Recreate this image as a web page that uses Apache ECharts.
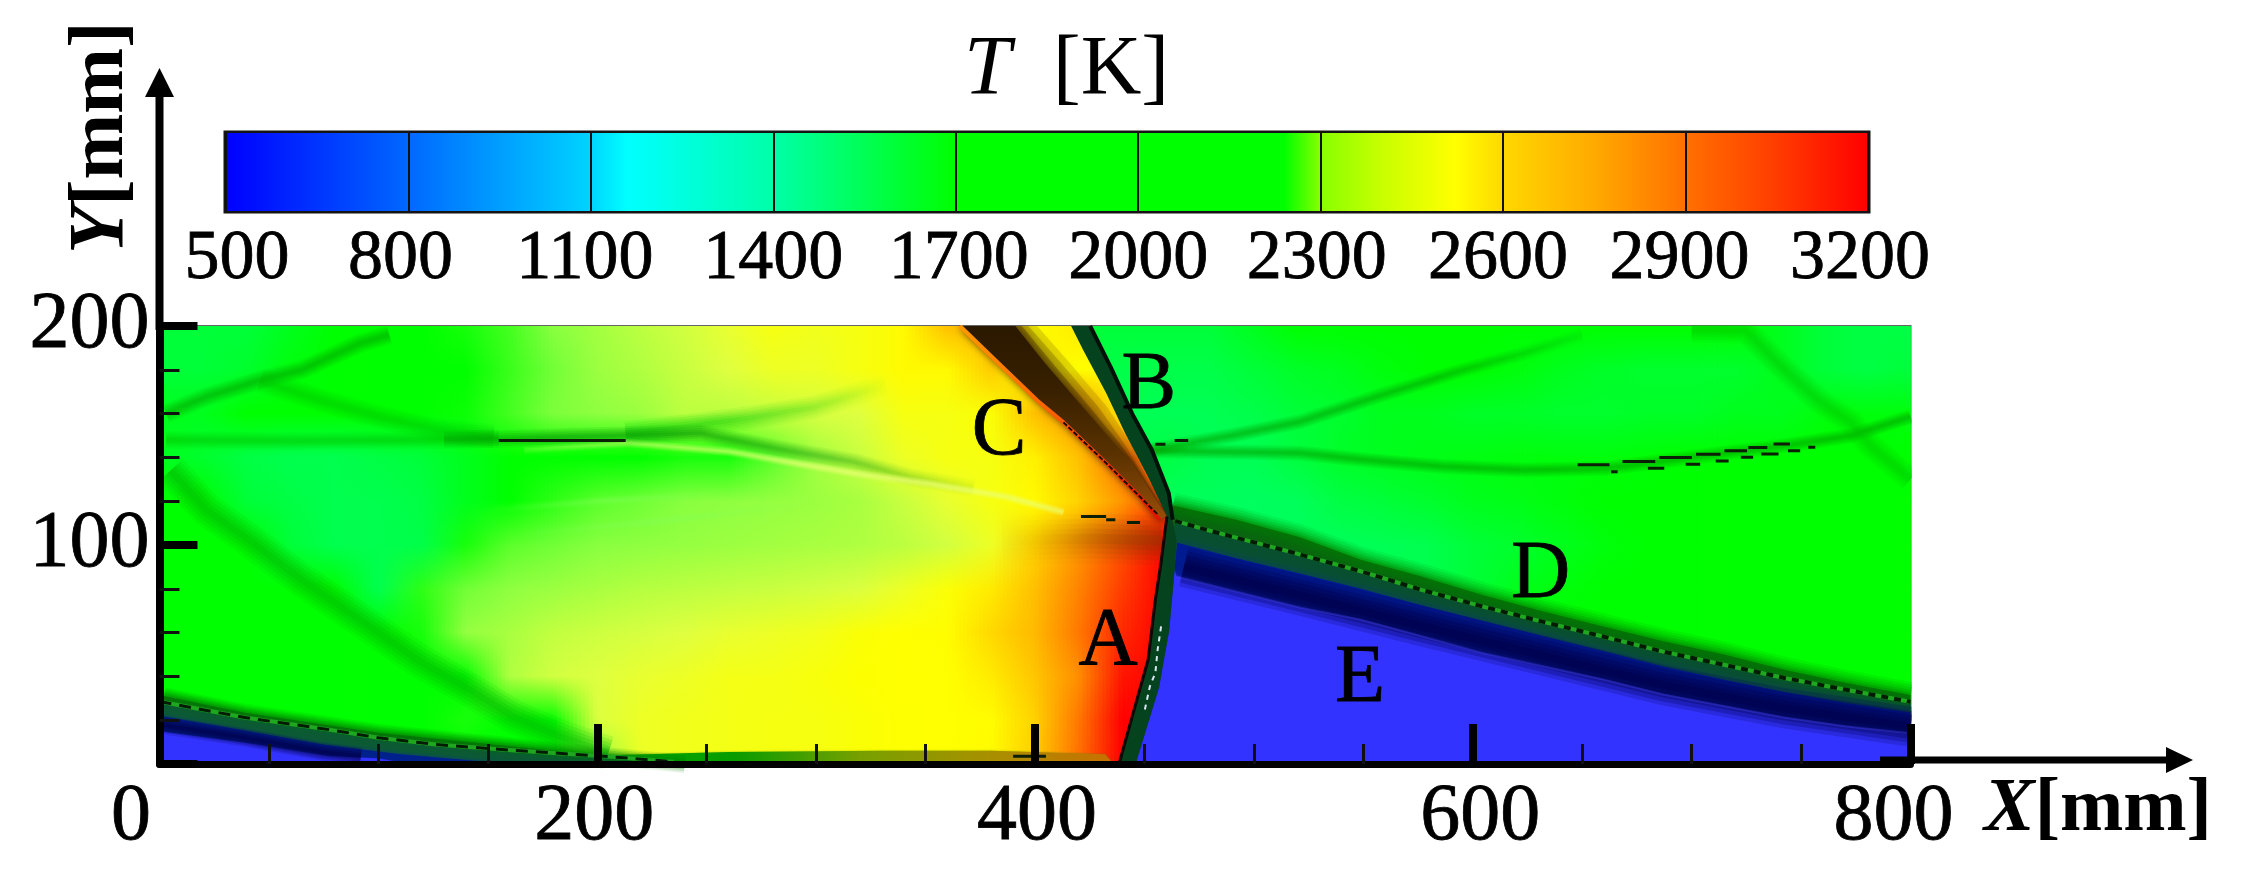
<!DOCTYPE html>
<html><head><meta charset="utf-8">
<style>html,body{margin:0;padding:0;background:#fff}#c{width:2249px;height:882px}</style>
<script src="https://cdn.jsdelivr.net/npm/echarts@6/dist/echarts.min.js"></script>
</head><body><div id="c"></div>
<script>
// ---------- colour scale ----------
const colorTicks = ['500','800','1100','1400','1700','2000','2300','2600','2900','3200'];
const scaleT   = [500,800,1100,1160,1400,1700,2240,2300,2400,2520,2600,2750,2900,3050,3200];
const scaleHex = ['#0000ff','#0068ff','#00d4ff','#00ffff','#00ffa8','#00ff00','#00ff00','#88ff00','#c8ff00','#ffff00','#ffd800','#ffaa00','#ff7000','#ff3c00','#ff0000'];

// ---------- temperature field, behind the wave (X = 0..480, Y = 200..0) ----------
const leftX = [0,20,40,60,80,100,120,140,160,180,200,220,240,260,280,300,320,340,360,380,400,420,440,460,480];
const rowY  = [200,180,160,140,120,100,80,60,40,20,0];
const leftT = [
[1600,1600,1600,1650,1700,1800,2100,2250,2270,2300,2340,2380,2420,2470,2500,2490,2500,2530,2680,2700,2520,2560,2560,2560,2560],
[1600,1600,1620,1680,1750,1800,2000,2240,2265,2290,2330,2360,2400,2450,2480,2480,2500,2530,2530,2640,2540,2520,2540,2540,2540],
[1650,1650,1700,1700,1700,1750,1900,2245,2270,2295,2310,2330,2380,2380,2400,2430,2450,2500,2500,2510,2680,2800,2560,2550,2550],
[1650,1620,1580,1560,1560,1580,1600,1650,1720,1850,2000,2150,2250,2250,2280,2340,2400,2480,2500,2500,2550,2680,2900,2900,2900],
[1800,1700,1600,1580,1560,1560,1580,1650,2000,2260,2280,2290,2300,2310,2320,2330,2350,2400,2470,2500,2530,2620,2800,3050,3050],
[1900,1900,1800,1600,1560,1560,1570,2250,2280,2290,2300,2310,2320,2330,2340,2350,2360,2380,2420,2480,2620,2800,3000,3200,3200],
[1800,1800,1800,1800,1750,1560,2260,2290,2310,2330,2350,2370,2380,2390,2400,2420,2440,2480,2510,2560,2680,2850,3050,3200,3200],
[1800,1800,1800,1800,1800,1750,2250,2320,2350,2390,2410,2430,2450,2470,2480,2490,2510,2520,2525,2600,2700,2880,3100,3200,3200],
[1800,1800,1800,1800,1800,1800,1800,2200,2360,2420,2450,2470,2480,2495,2495,2505,2515,2520,2520,2560,2660,2820,3150,3200,3200],
[1800,1800,1800,1800,1800,2100,2230,2250,1850,2100,2440,2480,2490,2495,2500,2500,2510,2518,2520,2525,2620,2880,3200,3200,3200],
[1800,1800,1800,1800,1800,1800,1800,1800,1800,1800,2300,2480,2490,2495,2500,2500,2510,2518,2520,2530,2640,2900,3200,3200,3200]
];
// ---------- temperature field, ahead of the wave (X = 420..800) ----------
const rightX = [420,440,460,480,500,520,540,560,580,600,620,640,660,680,700,720,740,760,780,800];
const rightT = [
[1600,1600,1600,1600,1650,1700,1700,1750,1750,1750,1750,1700,1700,1700,1700,1700,1650,1600,1580,1580],
[1570,1570,1570,1570,1600,1630,1650,1680,1700,1700,1680,1650,1630,1620,1620,1620,1650,1600,1580,1600],
[1550,1550,1550,1550,1570,1600,1620,1650,1650,1630,1630,1620,1620,1630,1630,1650,1650,1680,1680,1680],
[1550,1550,1580,1550,1550,1590,1630,1650,1660,1670,1680,1680,1680,1690,1700,1700,1700,1700,1750,1750],
[1540,1540,1540,1540,1530,1540,1580,1600,1620,1650,1660,1680,1700,1700,1720,1750,1760,1780,1800,1800],
[1530,1530,1530,1530,1530,1540,1540,1550,1560,1600,1620,1650,1680,1700,1750,1780,1800,1800,1800,1800],
[1530,1530,1530,1530,1530,1540,1540,1550,1560,1600,1650,1680,1700,1720,1760,1800,1800,1800,1800,1800],
[1600,1600,1600,1600,1600,1600,1600,1600,1600,1650,1680,1700,1750,1780,1800,1800,1800,1800,1800,1800],
[1700,1700,1700,1700,1700,1700,1700,1700,1700,1700,1700,1750,1780,1800,1800,1800,1800,1800,1800,1800],
[1800,1800,1800,1800,1800,1800,1800,1800,1800,1800,1800,1800,1800,1800,1800,1800,1800,1800,1800,1800],
[1800,1800,1800,1800,1800,1800,1800,1800,1800,1800,1800,1800,1800,1800,1800,1800,1800,1800,1800,1800]
];

// ---------- wave geometry in mm ----------
const frontLeft  = [[416.5,200],[422,189],[432.5,169.4],[441.2,151],[451.7,131],[460.3,113],[459.5,107],[457.6,92],[455,75],[451.7,47.6],[445.3,24.8],[438.4,0]];
const frontRightLow = [[446,0],[450.8,15.7],[456.7,35],[461.3,61],[463.8,88.7]];
const frontRightUp  = [[464.7,102],[462.9,111.5],[461.1,123.8],[453.4,143.4],[444.4,160],[434.7,181],[425.2,200]];
const slipLine   = [[365.7,200],[383.3,183],[401,166],[413,156],[432.4,137.5],[448,122],[457,111.5]];
const slipBlack  = [[413,156],[432.4,137.5],[448,122],[456,114]];
const wedgeEdge  = [[391,200],[404.6,183],[421.8,163],[437.5,145],[444.4,137.6],[460.3,113]];
const wedgeHaloA = [[394,200],[408,183],[425,163],[439,146],[445.5,137],[460.3,113]];
const wedgeHaloB = [[397,200],[412,183],[429,163],[441,146],[447,136],[460.3,113]];
const wedgeHaloC = [[401,200],[416,183],[433,163],[444,146],[449,135],[460.3,113]];
const noseDim    = [[385,102],[425,103],[458,102]];
// detonation band, lower right
const dEdge = [[463,118],[492,111.5],[521,103.5],[548.8,93.3],[576.6,85.6],[604,77.3],[631.8,69.7],[659.5,62.8],[687,56],[714.8,50],[742.3,43],[770,37.1],[800,31.5]];
const dDash = [[464,111],[478,107],[518,96.5],[548.8,88],[576.6,79.5],[604.2,72],[631.8,65],[659.5,58.2],[687,51.3],[714.8,45.3],[742.3,39.3],[770,34],[800,28.4]];
const dTeal = [[465,101],[492,94],[521,87],[548.8,80],[576.6,72.5],[604,65.5],[632,58.5],[660,51.5],[687,44.5],[715,38.5],[742,33],[770,28],[800,23.5]];
const dCore = [[468,90],[521,77],[576.6,63],[632,49.5],[687,36],[742,25.5],[800,17]];
const dETop = [[464.7,85.6],[491.8,78.8],[521,71.5],[548.8,65.9],[576.6,58.3],[604,50.8],[632,44.6],[660,38.5],[687,31.7],[715,26.4],[742,21.2],[770,17.2],[800,14]];
// same band entering at lower left
const lEdge = [[2,31],[39,23.4],[100,14.3],[161.4,8],[205,3.6],[240,0]];
const lDash = [[0,28.5],[39,21.2],[77.5,15.7],[100,12],[126.3,8.9],[161,6.3],[205,3.4],[235,1]];
const lTeal = [[0,22],[39,15.3],[73.8,9],[109,4.6],[144,1.5],[165,0]];
const lCore = [[2,17.7],[39,12],[75,5.5],[92,3.5]];
const lETop = [[0,15],[39,9.7],[77,3.6],[100,2.5],[115,0]];
const wallLayer = [[205,4],[260,5.5],[330,6],[380,6],[432,4.5],[436,0]];
// shock and slip lines
const obliqueLeft = [[5,134],[21.5,116],[40.7,102.4],[65,84],[91.4,66],[117.7,47.7],[143.9,32.6],[161.4,21.8],[182.4,12.7],[205,5]];
const upperLeftA  = [[3,160],[21.5,167.7],[46,175.3],[65,180],[91.4,192],[105,196]];
const upperLeftB  = [[46,175],[73.8,166],[100,158.6],[126.3,152.5],[152.6,149.5]];
const midFlat     = [[3,148],[60,147.5],[120,148],[155,148.5]];
const midCore     = [[130,148.2],[155,148.5],[213,150],[247,151],[282,144],[317,138],[343,131],[372,126]];
const midUpper    = [[213,151],[247,155],[269.7,158],[299.4,163],[332,173]];
const midBright   = [[166.6,143.4],[213.9,146.6],[260.6,142.6],[282,138.8],[317,132.8],[352,128],[387,122],[413,115]];
const paleStreakA = [[150,116],[200,120],[262,124]];
const paleStreakB = [[165,105],[230,111],[292,118]];
const rightA      = [[453.3,143.4],[490,150],[521,156.3],[558.4,168.5],[595.7,180],[623.7,187.6],[650,196]];
const rightB      = [[453,143],[490,142.5],[521,142],[549,139],[586.5,135.8],[623.7,134.3],[661,135],[707.6,141],[745,145.7],[773,150],[800,158.6]];
const rightC      = [[700,198.5],[724.6,198],[739.4,183],[758,166],[773,155.7],[782,145],[800,130]];
const whiteFlecks = [[457.6,62.8],[456,52],[455,41.6],[452.5,35.5],[450,24]];
// short black contour fragments [xStart, xEnd, y]
const contourBits = [[155,213,147.7],[421,432.5,113],[432.5,436.7,111.5],[442,448,110.3],[455,459.6,146],[463.8,470,147.7],
 [647.9,662.5,136.6],[668.4,683.4,138.1],[685.2,700.1,139.9],[702,713.2,141.4],[715,725.3,143],[725.9,734.6,144.5],[737.4,744.9,146.1],[753.3,756.5,144.6],
 [663.2,666.2,133.5],[680,687.5,135],[697.3,703.9,136.9],[711,716.9,138.4],[722.5,728.1,140.1],[731.8,739.7,141.6],[744,749.6,143],[390,405,3.5]];
// region letters [x, y, text]
const regionLetters = [[433.4,55.7,'A'],[452,172.6,'B'],[383.6,151.6,'C'],[631,86.3,'D'],[548.5,38.4,'E']];
const xLabelPad = {0:[0,57,0,0],200:[0,6,0,0],400:[0,0,0,4],600:[0,0,0,15],800:[0,34,0,0]};
const colorLabelPad = {500:[0,0,0,22],800:[0,16,0,0],1100:[0,12,0,0],1400:[0,0,0,0],1700:[0,0,0,6],2000:[0,0,0,0],2300:[0,8,0,0],2600:[0,10,0,0],2900:[0,12,0,0],3200:[0,16,0,0]};

// ---------- helpers ----------
const SERIF = '"Liberation Serif","Times New Roman",serif';
const rgb = scaleHex.map(h => [1,3,5].map(i => parseInt(h.substr(i,2),16)));
function tRgb(T){
  let c;
  if (T <= scaleT[0]) c=rgb[0].slice();
  else if (T >= scaleT[scaleT.length-1]) c=rgb[rgb.length-1].slice();
  else for (let i=1;i<scaleT.length;i++) if (T <= scaleT[i]) {
    const f=(T-scaleT[i-1])/(scaleT[i]-scaleT[i-1]);
    c=rgb[i-1].map((v,k)=>v+(rgb[i][k]-v)*f); break;
  }
  // the plot is drawn slightly paler than the bar in the yellow-green range
  if (T>2240 && T<2515) c[2]=Math.max(c[2],64*Math.min((T-2240)/60,(2515-T)/60,1));
  return c;
}
const css=c=>'rgb('+c.map(v=>Math.round(v)).join(',')+')';
const mix=(a,b,f)=>a.map((v,k)=>v+(b[k]-v)*f);
function cells(xs,m){
  const out=[];
  for(let r=0;r<rowY.length-1;r++) for(let c=0;c<xs.length-1;c++)
    out.push([xs[c],rowY[r],xs[c+1],rowY[r+1],m[r][c],m[r][c+1],m[r+1][c],m[r+1][c+1]]);
  return out;
}
function aheadFloor(x){
  const p=frontRightUp;
  if (x>=p[1][0]) return -1;
  for(let i=1;i<p.length-1;i++){
    const a=p[i],b=p[i+1];
    if(x<=a[0]&&x>=b[0]) return a[1]+(b[1]-a[1])*(a[0]-x)/(a[0]-b[0]);
  }
  return 999;
}
const STRIPS=11;
function shadeCell(clipAhead){
  return function(params,api){
    const x0=api.value(0),y0=api.value(1),x1=api.value(2),y1=api.value(3);
    const tl=tRgb(api.value(4)),tr=tRgb(api.value(5)),bl=tRgb(api.value(6)),br=tRgb(api.value(7));
    const kids=[];
    for(let s=0;s<STRIPS;s++){
      const u0=s/STRIPS,u1=(s+1)/STRIPS,um=(u0+u1)/2;
      const xa=x0+(x1-x0)*u0,xb=x0+(x1-x0)*u1,xm=x0+(x1-x0)*um;
      let yBot=y1;
      if(clipAhead){
        const f=aheadFloor(xm);
        if(f>=y0) continue;
        if(f>yBot) yBot=f;
      }
      const top=mix(tl,tr,um),bot=mix(bl,br,um);
      const botClip=mix(top,bot,(y0-yBot)/(y0-y1));
      const a=api.coord([xa,y0]),b=api.coord([xb,yBot]);
      kids.push({type:'rect',shape:{x:a[0]-0.4,y:a[1]-0.4,width:b[0]-a[0]+0.8,height:b[1]-a[1]+0.8},
        style:{fill:{type:'linear',x:0,y:0,x2:0,y2:1,colorStops:[{offset:0,color:css(top)},{offset:1,color:css(botClip)}]}}});
    }
    return {type:'group',children:kids};
  };
}
const rev=a=>a.slice().reverse();
const hgrad=(...c)=>({type:'linear',x:0,y:0,x2:1,y2:0,colorStops:c.map((v,i)=>({offset:i/(c.length-1),color:v}))});
const vgrad=(...c)=>({type:'linear',x:0,y:0,x2:0,y2:1,colorStops:c.map((v,i)=>({offset:i/(c.length-1),color:v}))});
// painted from back to front
const polygons=[
 {pts:slipLine.concat(rev(wedgeHaloC)),fill:'rgba(80,45,0,0.16)',blur:8,shadow:'rgba(80,45,0,0.16)'},
 {pts:slipLine.concat(rev(wedgeHaloB)),fill:'rgba(70,40,0,0.24)',blur:8,shadow:'rgba(70,40,0,0.2)'},
 {pts:slipLine.concat(rev(wedgeHaloA)),fill:'rgba(60,35,0,0.34)',blur:8,shadow:'rgba(60,35,0,0.3)'},
 {pts:slipLine.concat(rev(wedgeEdge)),fill:vgrad('#2a1800','#382000','#5a3200','#9a4e08'),blur:10,shadow:'#3a2200'},
 {pts:wallLayer.concat([[205,0]]),fill:hgrad('#00a800','#089c00','#78a000','#a89000','#c87000'),blur:2,shadow:'rgba(60,120,0,0.5)'},
 {pts:lEdge.concat([[0,0]]),fill:'#0a6f10',blur:6,shadow:'#008a00'},
 {pts:lDash.concat([[0,0]]),fill:'#0b5a34',blur:2,shadow:'#0b5a34'},
 {pts:lTeal.concat([[0,0]]),fill:'#00208c',blur:4,shadow:'#0a3a78'},
 {pts:lETop.concat([[0,0]]),fill:'#3333ff',blur:2,shadow:'#2020c0'},
 {pts:dEdge.concat([[800,0]],frontRightLow),fill:'#0a6410',blur:6,shadow:'#009000'},
 {pts:dDash.concat([[800,0]],frontRightLow),fill:'#084f30',blur:3,shadow:'#084f30'},
 {pts:dTeal.concat([[800,0]],frontRightLow),fill:'#001a90',blur:8,shadow:'#063a70'},
 {pts:dETop.concat([[800,0]],frontRightLow),fill:'#3333ff',blur:4,shadow:'#2626d8'},
 {pts:frontLeft.concat(frontRightLow,frontRightUp),fill:'#05431f',blur:0,shadow:'transparent'}
];
function lineSeries(name,data,color,width,blur,z,extra){
  return {name,type:'line',data,symbol:'none',silent:true,z:z||4,animation:false,
    lineStyle:Object.assign({color,width,cap:'butt',join:'round',shadowBlur:blur||0,shadowColor:typeof color==='string'?color:'rgba(0,0,0,0)'},extra||{})};
}
// a soft streak: five stacked translucent strokes. colour(alpha) gives the stroke paint
function soft(name,data,colour,width,strength,z){
  const c=typeof colour==='string'?(a=>'rgba('+colour+','+a+')'):colour, s=strength||1;
  return [[1,.1],[.8,.14],[.6,.16],[.4,.18],[.2,.2]].map(p=>lineSeries(name,data,c(p[1]*s),width*p[0],0,z||2));
}
const fadeRight=(rgbs,stops)=>a=>hgrad(...stops.map(k=>'rgba('+rgbs+','+a*k+')'));
const bitData=[];
contourBits.forEach(b=>{bitData.push([b[0],b[2]],[b[1],b[2]],[null,null]);});
const labelRich=(pads,size)=>{const r={};Object.keys(pads).forEach(k=>{r['t'+k]={fontFamily:SERIF,fontSize:size,color:'#000',padding:pads[k],textBorderColor:'#000',textBorderWidth:0.8};});return r;};

const option={
  animation:false,backgroundColor:'#fff',
  grid:[
    {left:159.5,top:326,width:1751,height:438,show:true,borderColor:'#666',borderWidth:2,backgroundColor:'transparent'},
    {left:226,top:133,width:1642,height:78,show:true,borderColor:'#141414',borderWidth:5,backgroundColor:'transparent'}
  ],
  xAxis:[
    {type:'value',gridIndex:0,min:0,max:800,interval:200,z:10,
     axisLine:{show:true,onZero:false,lineStyle:{color:'#000',width:7}},
     axisTick:{show:true,inside:true,length:40,lineStyle:{color:'#000',width:8}},
     minorTick:{show:true,splitNumber:4,length:20,lineStyle:{color:'#111',width:3}},
     splitLine:{show:false},
     axisLabel:{show:true,margin:14,color:'#000',fontFamily:SERIF,fontSize:80,showMinLabel:true,showMaxLabel:true,hideOverlap:false,
       formatter:v=>'{t'+v+'|'+v+'}',rich:labelRich(xLabelPad,80)}},
    {type:'category',gridIndex:1,data:colorTicks,boundaryGap:false,z:10,
     axisLine:{show:false},axisTick:{show:false},
     splitLine:{show:true,interval:0,lineStyle:{color:'#101010',width:2}},
     axisLabel:{show:true,interval:0,margin:14,color:'#000',fontFamily:SERIF,fontSize:70,hideOverlap:false,
       formatter:v=>'{t'+v+'|'+v+'}',rich:labelRich(colorLabelPad,70)}}
  ],
  yAxis:[
    {type:'value',gridIndex:0,min:0,max:200,interval:100,z:10,
     axisLine:{show:true,onZero:false,lineStyle:{color:'#000',width:8}},
     axisTick:{show:true,inside:true,length:38,lineStyle:{color:'#000',width:8}},
     minorTick:{show:true,splitNumber:5,length:20,lineStyle:{color:'#111',width:3}},
     splitLine:{show:false},
     axisLabel:{show:true,margin:10,color:'#000',fontFamily:SERIF,fontSize:80,textBorderColor:'#000',textBorderWidth:0.8,showMinLabel:false,formatter:v=>v===0?'':String(v)}},
    {type:'value',gridIndex:1,min:0,max:1,show:false,splitLine:{show:false}}
  ],
  series:[
    {name:'T behind wave',type:'custom',z:1,clip:true,silent:true,animation:false,xAxisIndex:0,yAxisIndex:0,
     data:cells(leftX,leftT),encode:{x:[0,2],y:[1,3]},dimensions:['x0','y0','x1','y1','tl','tr','bl','br'],renderItem:shadeCell(false)},
    {name:'T ahead of wave',type:'custom',z:1,clip:true,silent:true,animation:false,xAxisIndex:0,yAxisIndex:0,
     data:cells(rightX,rightT),encode:{x:[0,2],y:[1,3]},dimensions:['x0','y0','x1','y1','tl','tr','bl','br'],renderItem:shadeCell(true)},
    ...soft('nose dim',noseDim,fadeRight('110,60,0',[0,.08,.25,.55,.85,1]),50,1),
    ...soft('paleA',paleStreakA,fadeRight('130,255,90',[0,1,0]),10,.6),
    ...soft('paleB',paleStreakB,fadeRight('130,255,90',[0,1,0]),10,.6),
    ...soft('oblique',obliqueLeft,'0,175,0',34,1),
    ...soft('upperA',upperLeftA,'0,165,0',19,1),
    ...soft('upperB',upperLeftB,'0,195,0',24,.8),
    ...soft('midFlat',midFlat,'0,195,0',18,.8),
    ...soft('midUpper',midUpper,fadeRight('0,195,0',[1,1,.6,0]),24,.8),
    ...soft('midCore',midCore,fadeRight('0,140,0',[.5,1,1,.8,.5,.1]),18,1),
    ...soft('midBright',midBright,fadeRight('235,255,120',[.2,.7,1,1,1]),9,1.2),
    ...soft('rightA',rightA,fadeRight('0,160,0',[1,1,.9,.2]),15,1),
    ...soft('rightB',rightB,'0,160,0',15,1),
    ...soft('rightC',rightC,'0,195,0',26,.8),
    {name:'layers',type:'custom',z:3,clip:true,silent:true,animation:false,xAxisIndex:0,yAxisIndex:0,
     data:polygons.map((p,i)=>[i,0]),encode:{x:0,y:1},
     renderItem:(params,api)=>{
       const p=polygons[api.value(0)];
       return {type:'polygon',shape:{points:p.pts.map(q=>api.coord(q))},
         style:{fill:p.fill,shadowBlur:p.blur,shadowColor:p.shadow}};
     }},
    ...soft('edge glow D',dEdge,'0,130,0',26,1,3),
    ...soft('edge glow L',lEdge,'0,130,0',18,1,3),
    ...soft('navy core',dCore,'0,0,70',40,1.8,4),
    ...soft('navy core L',lCore,'0,0,70',18,1.5,4),
    lineSeries('E rim',dETop,'rgba(80,80,255,0.3)',2,0,4),
    lineSeries('slip',slipLine,vgrad('#ff9a00','#ff7000','#f04000','#e01000'),4,3,4),
    lineSeries('slip black',slipBlack,'#1a0c00',2,0,4,{type:[5,2]}),
    lineSeries('D marks light',dDash,'#1fa81f',4,0,4),
    lineSeries('D marks',dDash,'#041c04',4,0,4,{type:[7,6]}),
    lineSeries('L marks light',lDash,'#1fa81f',4,0,4),
    lineSeries('L marks',lDash,'#041c04',3,0,4,{type:[12,8]}),
    lineSeries('front black low',frontLeft.slice(5),'#140404',3,0,4),
    lineSeries('front black up',frontRightUp.slice(1),'#021008',4,0,4),
    lineSeries('front flecks',whiteFlecks,'#d8e8f0',2,0,4,{type:[5,5]}),
    {name:'bits',type:'line',data:bitData,symbol:'none',connectNulls:false,silent:true,z:4,animation:false,lineStyle:{color:'#0a1f05',width:3}},
    {name:'letters',type:'scatter',symbolSize:1,z:6,silent:true,animation:false,itemStyle:{color:'rgba(0,0,0,0)'},
     data:regionLetters,encode:{x:0,y:1},
     label:{show:true,position:'inside',formatter:p=>p.value[2],color:'#000',fontFamily:SERIF,fontSize:82,align:'center',verticalAlign:'middle',opacity:1,textBorderColor:'#000',textBorderWidth:0.8}},
    {name:'colour bar',type:'custom',z:2,silent:true,animation:false,xAxisIndex:1,yAxisIndex:1,data:[[0,1,9,0]],encode:{x:[0,2],y:[1,3]},
     renderItem:(params,api)=>{
       const a=api.coord([api.value(0),api.value(1)]),b=api.coord([api.value(2),api.value(3)]);
       const stops=scaleT.map((t,i)=>({offset:(t-500)/2700,color:scaleHex[i]}));
       return {type:'rect',shape:{x:a[0],y:a[1],width:b[0]-a[0],height:b[1]-a[1]},
         style:{fill:{type:'linear',x:0,y:0,x2:1,y2:0,colorStops:stops}}};
     }}
  ],
  graphic:[
    // masks keep the wide soft strokes inside the plot frame
    {type:'rect',z:9,silent:true,shape:{x:166,y:305,width:1770,height:20},style:{fill:'#fff'}},
    {type:'rect',z:9,silent:true,shape:{x:1912,y:305,width:24,height:440},style:{fill:'#fff'}},
    {type:'rect',z:20,shape:{x:155.5,y:95,width:8,height:235},style:{fill:'#000'}},
    {type:'polygon',z:20,shape:{points:[[159.5,68],[145,97],[174,97]]},style:{fill:'#000'}},
    {type:'rect',z:20,shape:{x:1880,y:756.5,width:290,height:7},style:{fill:'#000'}},
    {type:'polygon',z:20,shape:{points:[[2193,760],[2166,747],[2166,773]]},style:{fill:'#000'}},
    {type:'text',z:20,x:964,y:30,style:{text:'{i|T}  {r|[K]}',rich:{i:{fontFamily:SERIF,fontStyle:'italic',fontSize:84,fill:'#000'},r:{fontFamily:SERIF,fontSize:84,fill:'#000'}},fill:'#000',fontFamily:SERIF,fontSize:84}},
    {type:'text',z:20,x:1984,y:772,style:{text:'{i|X}{r|[mm]}',rich:{i:{fontFamily:SERIF,fontStyle:'italic',fontWeight:'bold',fontSize:76,fill:'#000'},r:{fontFamily:SERIF,fontWeight:'bold',fontSize:76,fill:'#000'}},fill:'#000',fontFamily:SERIF,fontSize:76}},
    {type:'text',z:20,x:62,y:254,rotation:Math.PI/2,style:{text:'{i|Y}{r|[mm]}',rich:{i:{fontFamily:SERIF,fontStyle:'italic',fontWeight:'bold',fontSize:79,fill:'#000'},r:{fontFamily:SERIF,fontWeight:'bold',fontSize:79,fill:'#000'}},fill:'#000',fontFamily:SERIF,fontSize:79}}
  ]
};
const chart=echarts.init(document.getElementById('c'),null,{renderer:'canvas',width:2249,height:882});
chart.setOption(option);
</script></body></html>
